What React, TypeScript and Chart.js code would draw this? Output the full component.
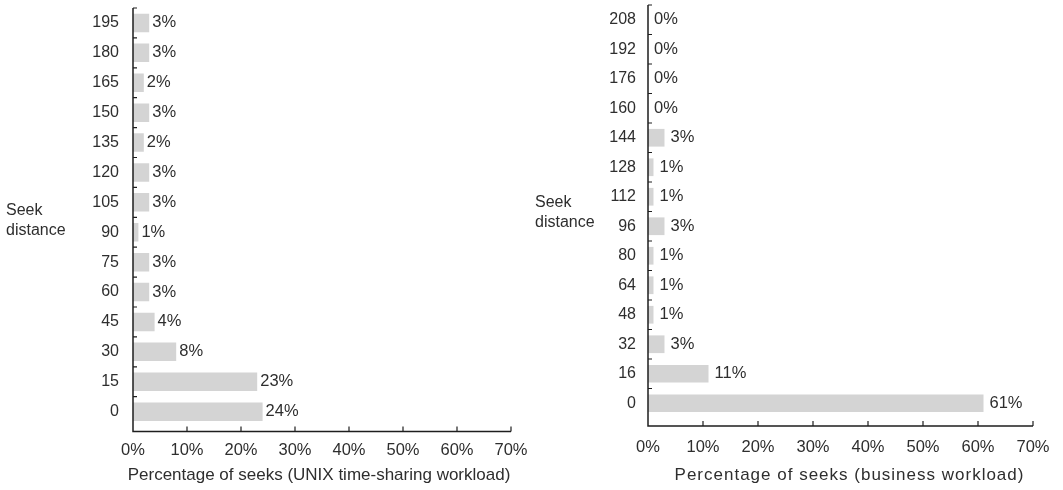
import React, { useEffect, useRef } from "react";
import { Chart, registerables } from "chart.js";

Chart.register(...registerables);

// ---------- data ----------
const unixDistances = ["195", "180", "165", "150", "135", "120", "105", "90", "75", "60", "45", "30", "15", "0"];
const unixPercents = [3, 3, 2, 3, 2, 3, 3, 1, 3, 3, 4, 8, 23, 24];

const businessDistances = ["208", "192", "176", "160", "144", "128", "112", "96", "80", "64", "48", "32", "16", "0"];
const businessPercents = [0, 0, 0, 0, 3, 1, 1, 3, 1, 1, 1, 3, 11, 61];

const percentTicks = [0, 10, 20, 30, 40, 50, 60, 70];

const unixTitle = "Percentage of seeks (UNIX time-sharing workload)";
const businessTitle = "Percentage of seeks (business workload)";
const seekAxisTitle = ["Seek", "distance"];

// ---------- style ----------
const FONT = '"Liberation Sans", Arial, Helvetica, sans-serif';
const INK = "#2e2e2e";
const BAR = "#d4d4d4";

type PanelCfg = {
  labels: string[];
  values: number[];
  title: string;
  left: number;
  width: number;
  top: number;
  rowsHeight: number;
  axisGap: number;
  yWidth: number;
  padRight: number;
  yLabelPad: number;
  xLabelPad: number;
  titleDx: number;
  titleY: number;
  titleSpacing: string;
  seekX: number;
  seekY: number[];
  valueOffset: number;
  barPct: number;
};

const decorPlugin = {
  id: "decor",
  afterDraw(chart: any, _args: any, opts: any) {
    const { ctx, chartArea } = chart;
    const xs = chart.scales.x;
    const ys = chart.scales.y;
    const x0 = xs.getPixelForValue(percentTicks[0]);
    const x1 = xs.getPixelForValue(percentTicks[percentTicks.length - 1]);
    const axisY = chartArea.bottom + opts.axisGap;
    ctx.save();
    ctx.strokeStyle = "#1e1e1e";
    ctx.lineWidth = 1.5;
    ctx.beginPath();
    ctx.moveTo(x0, chartArea.top);
    ctx.lineTo(x0, axisY);
    ctx.lineTo(x1, axisY);
    ctx.stroke();
    ctx.lineWidth = 1.2;
    // x tick marks (inward / upward)
    ctx.beginPath();
    percentTicks.forEach((v) => {
      if (v === 0) return;
      const px = xs.getPixelForValue(v);
      ctx.moveTo(px, axisY);
      ctx.lineTo(px, axisY - 5);
    });
    // y tick marks at category boundaries (inward / rightward)
    const n = ys.getLabels().length;
    ctx.moveTo(x0, chartArea.top);
    ctx.lineTo(x0 + 4, chartArea.top);
    for (let i = 0; i < n - 1; i++) {
      const py = (ys.getPixelForTick(i) + ys.getPixelForTick(i + 1)) / 2;
      ctx.moveTo(x0, py);
      ctx.lineTo(x0 + 4, py);
    }
    ctx.stroke();

    // value labels
    ctx.fillStyle = INK;
    ctx.font = `16.5px ${FONT}`;
    ctx.textAlign = "left";
    ctx.textBaseline = "middle";
    const meta = chart.getDatasetMeta(0);
    const vals = chart.data.datasets[0].data as number[];
    meta.data.forEach((bar: any, i: number) => {
      ctx.fillText(`${vals[i]}%`, bar.x + opts.valueOffset, bar.y);
    });

    // y-axis title
    ctx.font = `16px ${FONT}`;
    opts.seekLines.forEach((line: string, i: number) => {
      ctx.fillText(line, opts.seekX, opts.seekY[i]);
    });

    // x-axis title
    ctx.font = `17px ${FONT}`;
    ctx.textAlign = "center";
    try {
      (ctx as any).letterSpacing = opts.titleSpacing;
    } catch (e) {}
    ctx.fillText(opts.title, (x0 + x1) / 2 + opts.titleDx, opts.titleY);
    try {
      (ctx as any).letterSpacing = "0px";
    } catch (e) {}
    ctx.restore();
  },
};

function BarPanel({ cfg }: { cfg: PanelCfg }) {
  const ref = useRef<HTMLCanvasElement>(null);
  useEffect(() => {
    const H = 490;
    const chart = new Chart(ref.current as HTMLCanvasElement, {
      type: "bar",
      data: {
        labels: cfg.labels,
        datasets: [
          {
            data: cfg.values,
            backgroundColor: BAR,
            borderWidth: 0,
            barPercentage: cfg.barPct,
            categoryPercentage: 1,
          },
        ],
      },
      plugins: [decorPlugin as any],
      options: {
        indexAxis: "y",
        responsive: false,
        animation: false,
        events: [],
        layout: { padding: { top: cfg.top, left: 0, right: cfg.padRight, bottom: 0 } },
        plugins: {
          legend: { display: false },
          tooltip: { enabled: false },
          decor: {
            axisGap: cfg.axisGap,
            valueOffset: cfg.valueOffset,
            seekLines: seekAxisTitle,
            seekX: cfg.seekX,
            seekY: cfg.seekY,
            title: cfg.title,
            titleDx: cfg.titleDx,
            titleY: cfg.titleY,
            titleSpacing: cfg.titleSpacing,
          },
        } as any,
        scales: {
          x: {
            type: "linear",
            min: percentTicks[0],
            max: percentTicks[percentTicks.length - 1],
            afterBuildTicks: (scale: any) => {
              scale.ticks = percentTicks.map((v) => ({ value: v }));
            },
            afterFit: (scale: any) => {
              scale.height = H - cfg.top - cfg.rowsHeight;
              scale.paddingLeft = 0;
              scale.paddingRight = 0;
            },
            grid: { display: false, drawTicks: false },
            border: { display: false },
            ticks: {
              color: INK,
              font: { family: FONT, size: 16.5 },
              padding: cfg.xLabelPad,
              maxRotation: 0,
              autoSkip: false,
              callback: (v: any) => `${v}%`,
            },
          },
          y: {
            type: "category",
            afterFit: (scale: any) => {
              scale.width = cfg.yWidth;
              scale.paddingTop = 0;
              scale.paddingBottom = 0;
            },
            grid: { display: false, drawTicks: false },
            border: { display: false },
            ticks: {
              color: INK,
              font: { family: FONT, size: 16 },
              padding: cfg.yLabelPad,
              autoSkip: false,
            },
          },
        },
      } as any,
    });
    return () => chart.destroy();
  }, []);
  return (
    <canvas
      ref={ref}
      width={cfg.width}
      height={490}
      style={{ position: "absolute", left: cfg.left, top: 0, width: cfg.width, height: 490, display: "block" }}
    />
  );
}

const leftCfg: PanelCfg = {
  labels: unixDistances,
  values: unixPercents,
  title: unixTitle,
  left: 0,
  width: 531,
  top: 8,
  rowsHeight: 418.6,
  axisGap: 5,
  yWidth: 133,
  padRight: 20,
  yLabelPad: 14,
  xLabelPad: 13.5,
  titleDx: -3,
  titleY: 475,
  titleSpacing: "0px",
  seekX: 6,
  seekY: [211, 231],
  valueOffset: 3,
  barPct: 0.62,
};

const rightCfg: PanelCfg = {
  labels: businessDistances,
  values: businessPercents,
  title: businessTitle,
  left: 531,
  width: 532,
  top: 5,
  rowsHeight: 413,
  axisGap: 8,
  yWidth: 117,
  padRight: 30,
  yLabelPad: 12,
  xLabelPad: 20,
  titleDx: 9,
  titleY: 475,
  titleSpacing: "1px",
  seekX: 4,
  seekY: [203, 223],
  valueOffset: 6,
  barPct: 0.6,
};

export default function App() {
  return (
    <div style={{ position: "fixed", left: 0, top: 0, width: 1063, height: 490, background: "#fff", overflow: "hidden" }}>
      <BarPanel cfg={leftCfg} />
      <BarPanel cfg={rightCfg} />
    </div>
  );
}
